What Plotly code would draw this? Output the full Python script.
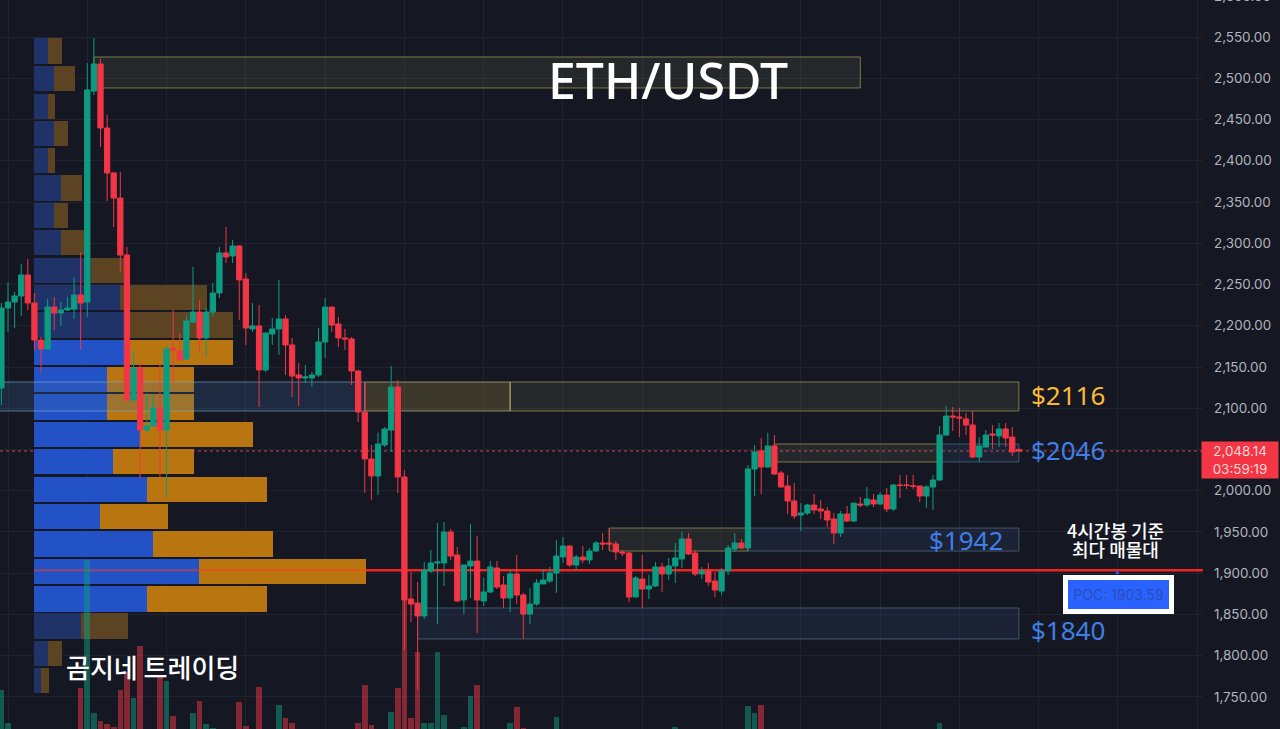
import plotly.graph_objects as go

# 4h candles, index -1 is the first one visible at the left edge
candle_idx = list(range(-1, 154))
opens = [
    2124.5, 2221.5, 2228.8, 2236.1, 2261.5, 2227.6, 2182.7, 2171.8, 2222.7, 2215.5,
    2219.1, 2220.3, 2237.3, 2228.8, 2484.5, 2517.3, 2439.7, 2385.2, 2354.8, 2285.7,
    2110, 2148.8, 2073.6, 2078.5, 2100.3, 2073.6, 2173, 2169.4, 2159.7, 2204.6,
    2216.7, 2185.2, 2216.7, 2239.7, 2288.2, 2284.6, 2296.7, 2256.7, 2196.1, 2199.7,
    2146.4, 2190, 2196.1, 2208.2, 2176.7, 2140.3, 2136.7, 2136.7, 2140.3, 2180.3,
    2222.7, 2202.1, 2185.2, 2184, 2145.2, 2095.5, 2038.5, 2017.9, 2055.5, 2073.6,
    2125.7, 2016.7, 1868.8, 1863.9, 1848.2, 1902.7, 1912.4, 1912.4, 1950, 1922.1,
    1867.6, 1908.8, 1914.8, 1866.4, 1877.3, 1906.4, 1885.8, 1870, 1899.1, 1873.6,
    1850.6, 1862.7, 1887, 1890.6, 1900.3, 1919.7, 1933, 1910, 1919.7, 1916.1,
    1926.9, 1936.7, 1936.7, 1935.5, 1925.7, 1924.5, 1871.2, 1893, 1880.9, 1884.6,
    1907.6, 1899.1, 1908.8, 1917.3, 1941.5, 1924.5, 1899.1, 1902.7, 1890.6, 1878.5,
    1902.7, 1929.4, 1936.7, 1930.6, 2026.4, 2048.2, 2028.8, 2054.3, 2021.5, 2005.8,
    1987.6, 1970.6, 1973, 1982.7, 1977.9, 1975.5, 1965.8, 1948.8, 1971.8, 1963.3,
    1983.9, 1982.7, 1988.8, 1983.9, 1994.8, 1977.9, 2007, 2007, 2006, 2005.8,
    1993.6, 2004.5, 2013, 2067.6, 2090.6, 2089.4, 2087, 2079.7, 2040.9, 2053,
    2068.8, 2066.4, 2074.8, 2065.1, 2050,
]
highs = [
    2227.6, 2253, 2241, 2274.9, 2280.9, 2239.7, 2186.4, 2232.4, 2234.9, 2228.8,
    2234.9, 2259.1, 2289.4, 2518.5, 2548.8, 2523.3, 2455.5, 2386.4, 2386.4, 2295.5,
    2170.6, 2154.8, 2118.5, 2116.1, 2152.4, 2176.7, 2219.1, 2191.2, 2213, 2271.2,
    2231.2, 2221.5, 2251.8, 2295.5, 2319.7, 2303.9, 2297.9, 2264, 2227.6, 2225.2,
    2191.2, 2209.4, 2255.5, 2213, 2185.2, 2154.8, 2152.4, 2144, 2197.3, 2233.6,
    2222.7, 2210.6, 2196.1, 2186.4, 2146.4, 2131.8, 2055.5, 2070.4, 2077.3, 2151.2,
    2134.2, 2025.2, 1901.5, 1889.4, 1913.6, 1928.2, 1960.9, 1962.1, 1953.6, 1931.8,
    1910, 1959.7, 1945.1, 1894.2, 1914.8, 1914.8, 1896.7, 1903.9, 1922.1, 1876.1,
    1882.1, 1893, 1905.2, 1907.6, 1940.3, 1943.9, 1934.2, 1922.1, 1933, 1930.6,
    1939.1, 1948.8, 1954.8, 1939.1, 1928.2, 1925.7, 1896.7, 1922.1, 1897.9, 1913.6,
    1912.4, 1918.5, 1936.7, 1950, 1948.8, 1928.2, 1907.6, 1912.4, 1901.5, 1906.4,
    1934.2, 1948.8, 1941.5, 2031.2, 2055.5, 2063.9, 2070.4, 2067.6, 2024, 2019,
    2009.4, 1985, 1983.9, 1996, 1988.8, 1980.3, 1973, 1975.5, 1981.5, 1985,
    1992.4, 2004.5, 1996, 1998.4, 2003.3, 2008.2, 2019, 2019, 2019, 2005.8,
    2007, 2019, 2078.5, 2102.7, 2101.5, 2100.3, 2094.3, 2096.7, 2065.1, 2073.6,
    2079.7, 2082.1, 2082.1, 2077.3, 2051,
]
lows = [
    2103.9, 2192.4, 2197.3, 2211.8, 2219.1, 2170.6, 2142.7, 2170.6, 2194.9, 2199.7,
    2217.9, 2208.2, 2170.6, 2210.6, 2479.7, 2416.7, 2351.2, 2319.7, 2265.1, 2107.6,
    2107.6, 2015.5, 2071.2, 2077.3, 2016.7, 1992.4, 2130.6, 2158.5, 2158.5, 2203.3,
    2168.2, 2162.1, 2210.6, 2233.6, 2276, 2276, 2207, 2176.7, 2192.4, 2101.5,
    2144, 2176.7, 2164.6, 2140.3, 2113.6, 2102.7, 2130.6, 2125.7, 2137.9, 2160.9,
    2192.4, 2174.3, 2170.6, 2128.2, 2083.3, 1997.3, 1988.8, 1994.8, 2053, 2047,
    1997.3, 1807, 1840.9, 1758.5, 1844.5, 1900.3, 1838.5, 1884.6, 1916.1, 1865.2,
    1850.6, 1870, 1827.6, 1860.3, 1876.1, 1880.9, 1857.9, 1853, 1862.7, 1820.3,
    1838.5, 1860.3, 1887, 1888.2, 1876.1, 1912.4, 1907.6, 1903.9, 1912.4, 1911.2,
    1925.7, 1928.2, 1928.2, 1916.1, 1920.9, 1865.2, 1871.2, 1857.9, 1868.8, 1883.3,
    1877.3, 1891.8, 1888.2, 1906.4, 1922.1, 1896.7, 1893, 1884.6, 1871.2, 1873.6,
    1897.9, 1925.7, 1929.4, 1929.4, 1993.6, 1996, 2027.6, 2019, 2004.5, 1971.8,
    1965.8, 1951.2, 1970.6, 1971.8, 1965.8, 1956, 1935.5, 1943.9, 1962.1, 1962.1,
    1980.3, 1980.3, 1980.3, 1982.7, 1974.2, 1975.5, 1991.2, 2002.1, 2002.1, 1986.4,
    1979.1, 1976.7, 2011.8, 2066.4, 2072.4, 2065.1, 2067.6, 2039.7, 2034.9, 2053,
    2050.6, 2053, 2053, 2042.1, 2047,
]
closes = [
    2221.5, 2228.8, 2236.1, 2261.5, 2227.6, 2182.7, 2171.8, 2222.7, 2215.5, 2219.1,
    2221.5, 2237.3, 2227.6, 2485.8, 2517.3, 2439.7, 2385.2, 2354.8, 2285.7, 2110,
    2148.8, 2073.6, 2078.5, 2100.3, 2073.6, 2171.8, 2170.6, 2158.5, 2205.8, 2216.7,
    2185.2, 2216.7, 2239.7, 2288.2, 2283.4, 2296.7, 2255.5, 2197.3, 2199.7, 2146.4,
    2191.2, 2196.1, 2208.2, 2176.7, 2139, 2136.7, 2137.9, 2140.3, 2180.3, 2222.7,
    2200.9, 2185.2, 2184, 2145.2, 2095.5, 2038.5, 2017.9, 2056.7, 2074.8, 2125.7,
    2016.7, 1867.6, 1862.7, 1848.2, 1903.9, 1912.4, 1913.6, 1950, 1920.9, 1866.4,
    1910, 1914.8, 1867.6, 1877.3, 1907.6, 1883.3, 1870, 1899.1, 1873.6, 1850.6,
    1862.7, 1888.2, 1891.8, 1900.3, 1920.9, 1933, 1910, 1919.7, 1916.1, 1926.9,
    1936.7, 1935.5, 1935.5, 1925.7, 1924.5, 1871.2, 1894.2, 1880.9, 1884.6, 1907.6,
    1899.1, 1908.8, 1918.5, 1941.5, 1923.3, 1899.1, 1902.7, 1889.4, 1879.7, 1902.7,
    1930.6, 1936.7, 1930.6, 2026.4, 2047, 2028.8, 2054.3, 2020.3, 2004.5, 1987.6,
    1969.4, 1973, 1982.7, 1976.7, 1975.5, 1964.5, 1948.8, 1971.8, 1963.3, 1985,
    1982.7, 1990, 1983.9, 1994.8, 1977.9, 2007, 2006.4, 2006.4, 2005.4, 1993.6,
    2004.5, 2013, 2067.6, 2090.6, 2089.4, 2088.2, 2079.7, 2040.9, 2054.3, 2067.6,
    2067.6, 2074.8, 2063.9, 2047, 2048.14,
]

# volume, only the candles whose bars reach the bottom of the view
vol_idx = [-1, 0, 11, 12, 13, 14, 15, 16, 17, 18, 19, 20, 23, 24, 25, 28, 29, 30, 31, 35, 36, 38,
           41, 42, 43, 53, 54, 55, 58, 59, 60, 61, 62, 63, 64, 65, 66, 69, 70, 71, 76, 77, 78,
           83, 101, 112, 113, 114, 141]
vol_values = [39, 6, 41, 169, 16, 8, 5, 2, 39, 57, 31, 83, 53, 48, 13, 16, 28, 5, 1, 27, 3, 42,
              24, 11, 6, 6, 44, 4, 17, 41, 129, 11, 77, 6, 6, 77, 14, 2, 33, 44, 6, 22, 1,
              12, 2, 23, 16, 24, 6]

# volume profile rows, top to bottom
profile_price = [2533.0, 2499.7, 2465.8, 2433.0, 2400.3, 2367.0, 2333.6, 2300.9, 2266.9, 2234.2, 2200.9, 2167.6,
                 2134.9, 2101.5, 2068.2, 2035.5, 2001.5, 1968.8, 1935.5, 1902.1, 1868.8, 1836.1, 1802.8, 1770.0]
profile_buy = [14, 20, 14, 20, 14, 27, 20, 27, 57, 86, 96, 96, 73, 73, 106, 79, 113, 66, 119, 165, 113, 47, 14, 7]
profile_sell = [14, 21, 7, 14, 7, 21, 14, 24, 33, 87, 103, 103, 87, 87, 113, 81, 120, 68, 120, 167, 120, 47, 14, 8]
value_area = [False] * 11 + [True] * 10 + [False] * 3

# zones: start candle, end candle, upper price, lower price
zone_yellow = [(13, 129, 2525.8, 2488.2), (76, 153, 2131.8, 2096.7), (116, 141, 2056.7, 2034.9),
               (91, 112, 1954.8, 1926.9)]
zone_strong = [(54, 76, 2131.8, 2096.7)]
zone_blue_strong = [(-2, 54, 2131.8, 2096.7)]
zone_blue = [(141, 153, 2056.7, 2034.9), (112, 153, 1954.8, 1926.9), (62, 153, 1857.9, 1820.3)]

poc_price = 1903.59
last_price = 2048.14

BG = "#151823"
GREEN = "#0c9c82"
RED = "#f23645"
GRID = "#20232e"
FONT = "Noto Sans"
PLOT_W = 1203
H = 729


def px(x):
    return x / PLOT_W


def py(y):
    return 1 - y / H


def zone_trace(zone, line, fill):
    x0, x1, top, bottom = zone
    return go.Scatter(
        x = [x0, x1, x1, x0, x0],
        y = [top, top, bottom, bottom, top],
        xaxis = "x2",
        yaxis = "y",
        mode = "lines",
        line = dict(color = line, width = 1),
        fill = "toself",
        fillcolor = fill,
        hoverinfo = "skip",
    )


fig = go.Figure()

# profile sits on the base axes so that everything else draws over it
fig.add_trace(go.Bar(
    y = profile_price,
    x = profile_buy,
    orientation = "h",
    width = 30.5,
    marker = dict(color = ["#2351c6" if v else "#1f3369" for v in value_area], line_width = 0),
    xaxis = "x",
    yaxis = "y",
))
fig.add_trace(go.Bar(
    y = profile_price,
    x = profile_sell,
    orientation = "h",
    width = 30.5,
    marker = dict(color = ["#b9750f" if v else "#5c4423" for v in value_area], line_width = 0),
    xaxis = "x",
    yaxis = "y",
))

for z in zone_yellow:
    fig.add_trace(zone_trace(z, "rgba(205,195,95,0.55)", "rgba(190,185,110,0.1)"))
for z in zone_strong:
    fig.add_trace(zone_trace(z, "rgba(205,205,150,0.6)", "rgba(215,185,75,0.2)"))
for z in zone_blue_strong:
    fig.add_trace(zone_trace(z, "rgba(135,170,205,0.6)", "rgba(60,110,170,0.22)"))
for z in zone_blue:
    fig.add_trace(zone_trace(z, "rgba(115,155,190,0.45)", "rgba(60,110,170,0.13)"))

# POC line, see-through over the profile and solid after it
fig.add_trace(go.Scatter(
    x = [3.93, 54.2],
    y = [poc_price, poc_price],
    xaxis = "x2",
    yaxis = "y",
    mode = "lines",
    line = dict(color = "rgba(255,60,30,0.55)", width = 2),
))
fig.add_trace(go.Scatter(
    x = [54.2, 180.87],
    y = [poc_price, poc_price],
    xaxis = "x2",
    yaxis = "y",
    mode = "lines",
    line = dict(color = "#f0261e", width = 2.4),
))

vol_colors = []
for i in vol_idx:
    k = candle_idx.index(i)
    vol_colors.append("rgba(12,156,130,0.5)" if closes[k] >= opens[k] else "rgba(242,54,69,0.5)")

fig.add_trace(go.Bar(
    x = vol_idx,
    y = vol_values,
    width = 0.85,
    marker = dict(color = vol_colors, line_width = 0),
    xaxis = "x2",
    yaxis = "y2",
))

fig.add_trace(go.Candlestick(
    x = candle_idx,
    open = opens,
    high = highs,
    low = lows,
    close = closes,
    whiskerwidth = 0,
    increasing = dict(line = dict(color = GREEN, width = 1), fillcolor = GREEN),
    decreasing = dict(line = dict(color = RED, width = 1), fillcolor = RED),
    xaxis = "x3",
    yaxis = "y",
))

annotations = [
    dict(text = "ETH/USDT", x = px(668), y = py(80), font = dict(size = 50, color = "white", weight = 500)),
    dict(text = "곰지네 트레이딩", x = px(152), y = py(666),
         font = dict(size = 26, color = "white", family = "Noto Sans CJK KR", weight = 500)),
    dict(text = "$2116", x = px(1068), y = py(395), font = dict(size = 26, color = "#fbb939")),
    dict(text = "$2046", x = px(1068), y = py(450), font = dict(size = 26, color = "#3f7fe6")),
    dict(text = "$1942", x = px(966), y = py(540), font = dict(size = 26, color = "#3f7fe6")),
    dict(text = "$1840", x = px(1068), y = py(630), font = dict(size = 26, color = "#3f7fe6")),
    dict(text = "4시간봉 기준", x = px(1115), y = py(530),
         font = dict(size = 18, color = "white", family = "Noto Sans CJK KR", weight = 500)),
    dict(text = "최다 매물대", x = px(1115), y = py(549),
         font = dict(size = 18, color = "white", family = "Noto Sans CJK KR", weight = 500)),
    dict(text = "▲", x = px(1117), y = py(571), font = dict(size = 7, color = "#2962ff")),
    dict(text = "POC: 1903.59", x = px(1118.5), y = py(594.5), width = 101, height = 29,
         bgcolor = "#2962ff", bordercolor = "white", borderwidth = 5, borderpad = 0,
         font = dict(size = 14, color = "#2b4fb5", family = "Inter")),
    dict(text = "2,048.14<br>03:59:19", x = px(1240), y = py(460), width = 74, height = 34,
         bgcolor = RED, font = dict(size = 13.4, color = "#ffd5d8", family = "Inter")),
    dict(text = "2,600.00", x = px(1242), y = py(-4),
         font = dict(size = 13.4, color = "#b2b5be", family = "Inter")),
]
for a in annotations:
    a.update(xref = "paper", yref = "paper", showarrow = False, xanchor = "center", yanchor = "middle")

fig.update_layout(
    width = 1280,
    height = H,
    margin = dict(l = 0, r = 1280 - PLOT_W, t = 0, b = 0, autoexpand = False),
    paper_bgcolor = BG,
    plot_bgcolor = BG,
    showlegend = False,
    barmode = "stack",
    boxgap = 0.2,
    boxgroupgap = 0,
    font = dict(family = FONT),
    annotations = annotations,
    # profile volume axis, one unit is one pixel
    xaxis = dict(range = [-34, 1169], showgrid = False, zeroline = False, showticklabels = False, ticks = ""),
    xaxis2 = dict(range = [-1.211, 180.87], overlaying = "x", anchor = "y", visible = False),
    xaxis3 = dict(
        range = [-1.211, 180.87],
        overlaying = "x",
        anchor = "y",
        type = "linear",
        tick0 = 0,
        dtick = 12,
        showgrid = True,
        gridcolor = GRID,
        gridwidth = 1,
        zeroline = False,
        showticklabels = False,
        ticks = "",
        rangeslider = dict(visible = False),
    ),
    yaxis = dict(
        range = [1711.2, 2594.85],
        side = "right",
        tick0 = 0,
        dtick = 50,
        tickformat = ",.2f",
        gridcolor = GRID,
        gridwidth = 1,
        zeroline = False,
        ticks = "",
        ticklabelstandoff = 10,
        tickfont = dict(size = 13.4, color = "#b2b5be", family = "Inter"),
    ),
    yaxis2 = dict(range = [0, H], overlaying = "y", visible = False),
    shapes = [dict(
        type = "line",
        xref = "x",
        yref = "y",
        x0 = -34,
        x1 = 1169,
        y0 = last_price,
        y1 = last_price,
        layer = "between",
        line = dict(color = "rgba(245,85,95,0.8)", width = 1, dash = "dot"),
    )],
)

fig.write_html("out.html", config = dict(displayModeBar = False),
               post_script = "document.body.style.margin = '0';")
